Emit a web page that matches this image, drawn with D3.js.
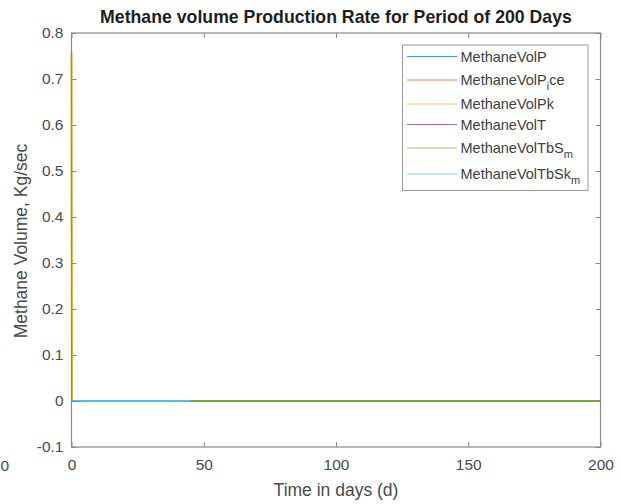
<!DOCTYPE html>
<html>
<head>
<meta charset="utf-8">
<script src="https://cdn.jsdelivr.net/npm/d3@7"></script>
<style>
  html, body { margin: 0; padding: 0; background: #ffffff; }
  svg { display: block; font-family: "Liberation Sans", Arial, Helvetica, sans-serif; }
</style>
</head>
<body>
<svg id="chart" width="621" height="504"></svg>
<script>
// ---- data -------------------------------------------------------------
const xTicks = [0, 50, 100, 150, 200];
const yTicks = [-0.1, 0, 0.1, 0.2, 0.3, 0.4, 0.5, 0.6, 0.7, 0.8];
const yTickLabels = ["-0.1", "0", "0.1", "0.2", "0.3", "0.4", "0.5", "0.6", "0.7", "0.8"];

// days sampled for each series
const daysFull = [0, 0.2, 200];
const daysShort = [0, 0.2, 45];

const volP    = [0, 0, 0];
const volPice = [0, 0, 0];
const volPk   = [0.757, 0, 0];
const volT    = [0, 0, 0];
const volTbSm = [0, 0, 0];
const volTbSkm = [0, 0, 0];

const seriesNames = ["MethaneVolP", "MethaneVolPice", "MethaneVolPk", "MethaneVolT", "MethaneVolTbSm", "MethaneVolTbSkm"];
const seriesColors = ["#0072BD", "#D95319", "#EDB120", "#7E2F8E", "#77AC30", "#4DBEEE"];

const series = [
  { name: seriesNames[0], days: daysFull,  values: volP,     color: seriesColors[0], base: "MethaneVolP",   sub: null, tail: null },
  { name: seriesNames[1], days: daysFull,  values: volPice,  color: seriesColors[1], base: "MethaneVolP",   sub: "i",  tail: "ce" },
  { name: seriesNames[2], days: daysFull,  values: volPk,    color: seriesColors[2], base: "MethaneVolPk",  sub: null, tail: null },
  { name: seriesNames[3], days: daysFull,  values: volT,     color: seriesColors[3], base: "MethaneVolT",   sub: null, tail: null },
  { name: seriesNames[4], days: daysFull,  values: volTbSm,  color: seriesColors[4], base: "MethaneVolTbS", sub: "m",  tail: null },
  { name: seriesNames[5], days: daysShort, values: volTbSkm, color: seriesColors[5], base: "MethaneVolTbSk",sub: "m",  tail: null }
];

// ---- layout -----------------------------------------------------------
const plot = { left: 71.5, right: 600.5, top: 33, bottom: 447 };
const svg = d3.select("#chart");

const x = d3.scaleLinear().domain([0, 200]).range([plot.left, plot.right]);
const y = d3.scaleLinear().domain([-0.1, 0.8]).range([plot.bottom, plot.top]);

const axisColor = "#8a8a8a";
const textColor = "#4a4a4a";

// plot background
svg.append("rect")
  .attr("x", plot.left).attr("y", plot.top)
  .attr("width", plot.right - plot.left).attr("height", plot.bottom - plot.top)
  .attr("fill", "#ffffff");

// ---- series lines (drawn in order, later series on top) ---------------
const line = d3.line().x(d => x(d[0])).y(d => y(d[1]));
const lines = svg.append("g");
series.forEach(s => {
  lines.append("path")
    .datum(s.days.map((d, i) => [d, s.values[i]]))
    .attr("d", line)
    .attr("fill", "none")
    .attr("stroke", s.color)
    .attr("stroke-width", 2);
});

// ---- axes (inward ticks on all four sides) -----------------------------
function styleAxis(g, showText) {
  g.select(".domain").remove();
  g.selectAll(".tick line").attr("stroke", axisColor).attr("stroke-width", 1);
  g.selectAll(".tick text")
    .attr("fill", textColor)
    .style("font-size", "15.5px")
    .style("display", showText ? null : "none");
}

svg.append("g")
  .attr("transform", `translate(0,${plot.bottom})`)
  .call(d3.axisBottom(x).tickValues(xTicks).tickFormat(d3.format("d")).tickSizeInner(-5).tickSizeOuter(0).tickPadding(12))
  .call(g => styleAxis(g, true));

svg.append("g")
  .attr("transform", `translate(0,${plot.top})`)
  .call(d3.axisTop(x).tickValues(xTicks).tickSizeInner(-5).tickSizeOuter(0))
  .call(g => styleAxis(g, false));

svg.append("g")
  .attr("transform", `translate(${plot.left},0)`)
  .call(d3.axisLeft(y).tickValues(yTicks).tickFormat((d, i) => yTickLabels[i]).tickSizeInner(-5).tickSizeOuter(0).tickPadding(8))
  .call(g => styleAxis(g, true));

svg.append("g")
  .attr("transform", `translate(${plot.right},0)`)
  .call(d3.axisRight(y).tickValues(yTicks).tickSizeInner(-5).tickSizeOuter(0))
  .call(g => styleAxis(g, false));

// axes box
svg.append("rect")
  .attr("x", plot.left).attr("y", plot.top)
  .attr("width", plot.right - plot.left).attr("height", plot.bottom - plot.top)
  .attr("fill", "none")
  .attr("stroke", axisColor)
  .attr("stroke-width", 1.2);

// stray tick label at the left margin
svg.append("text")
  .attr("x", 0.5).attr("y", 471)
  .attr("text-anchor", "start")
  .attr("fill", textColor)
  .style("font-size", "15.5px")
  .text("0");

// ---- titles -----------------------------------------------------------
svg.append("text")
  .attr("x", (plot.left + plot.right) / 2).attr("y", 23)
  .attr("text-anchor", "middle")
  .attr("fill", "#1e1e1e")
  .style("font-size", "17.7px")
  .style("font-weight", "bold")
  .text("Methane volume Production Rate for Period of 200 Days");

svg.append("text")
  .attr("x", (plot.left + plot.right) / 2).attr("y", 496)
  .attr("text-anchor", "middle")
  .attr("fill", textColor)
  .style("font-size", "17.5px")
  .text("Time in days (d)");

svg.append("text")
  .attr("transform", `translate(27,${(plot.top + plot.bottom) / 2 + 1}) rotate(-90)`)
  .attr("text-anchor", "middle")
  .attr("fill", textColor)
  .style("font-size", "17.5px")
  .text("Methane Volume, Kg/sec");

// ---- legend -----------------------------------------------------------
const legend = svg.append("g");
legend.append("rect")
  .attr("x", 402.5).attr("y", 45)
  .attr("width", 185.5).attr("height", 145.5)
  .attr("fill", "#ffffff")
  .attr("stroke", "#9a9a9a")
  .attr("stroke-width", 1);

const entryY = [56.5, 80, 104, 124.5, 148, 174];
series.forEach((s, i) => {
  const yy = entryY[i];
  legend.append("line")
    .attr("x1", 407).attr("x2", 457)
    .attr("y1", yy).attr("y2", yy)
    .attr("stroke", s.color)
    .attr("stroke-opacity", 0.7)
    .attr("stroke-width", 1);
  const t = legend.append("text")
    .attr("x", 460.5).attr("y", yy + 5)
    .attr("fill", "#404040")
    .style("font-size", "14.5px");
  t.append("tspan").text(s.base);
  if (s.sub) {
    t.append("tspan").attr("dy", 5).style("font-size", "11px").text(s.sub);
    if (s.tail) t.append("tspan").attr("dy", -5).text(s.tail);
  }
});
</script>
</body>
</html>
